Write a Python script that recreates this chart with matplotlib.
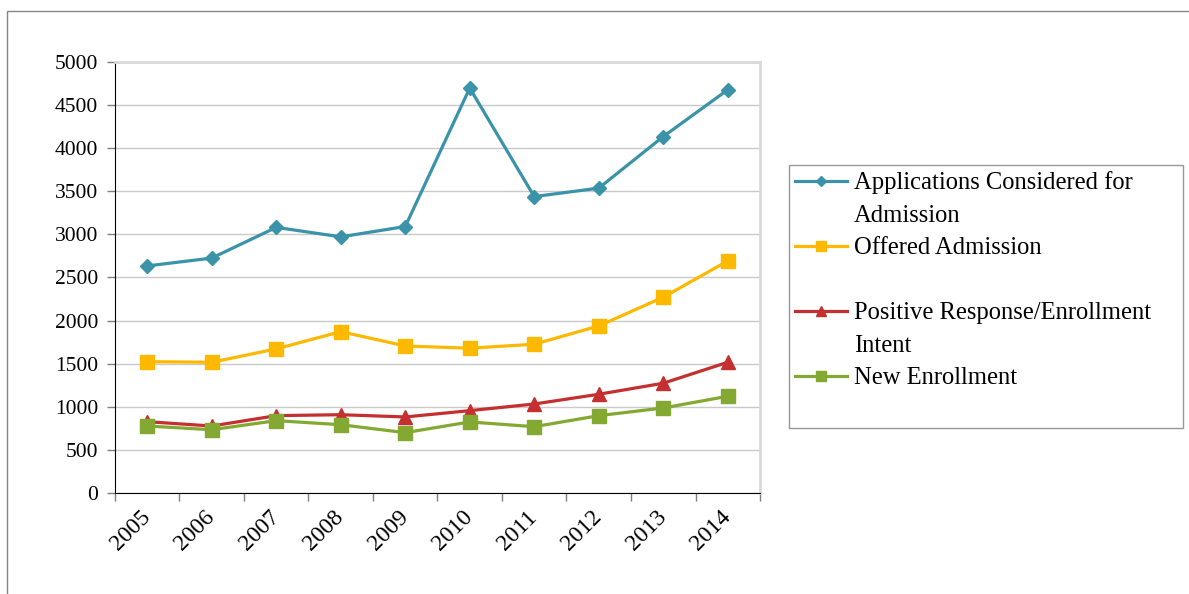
import numpy as np
import matplotlib.pyplot as plt
from matplotlib.lines import Line2D
from matplotlib.patches import Rectangle

plt.rcParams['font.family'] = ['Liberation Serif', 'DejaVu Serif']

years = ['2005', '2006', '2007', '2008', '2009', '2010', '2011', '2012', '2013', '2014']
applications = [2633, 2724, 3080, 2970, 3090, 4695, 3437, 3535, 4133, 4675]
offered = [1523, 1516, 1671, 1871, 1705, 1679, 1725, 1937, 2270, 2691]
positive = [827, 777, 897, 908, 882, 955, 1032, 1145, 1273, 1516]
enrolled = [777, 734, 839, 792, 700, 824, 769, 897, 986, 1122]

c_app = '#3A93A8'
c_off = '#FDB900'
c_pos = '#C4302F'
c_new = '#84A933'

fig = plt.figure(figsize=(11.89, 5.94), dpi=100)
ax = fig.add_axes([0.0967, 0.170, 0.5425, 0.726])

x = np.arange(len(years))
ax.plot(x, applications, color=c_app, lw=2.3, marker='D', ms=7.5, zorder=3)
ax.plot(x, offered, color=c_off, lw=2.3, marker='s', ms=9.5, zorder=3)
ax.plot(x, positive, color=c_pos, lw=2.3, marker='^', ms=10, zorder=3)
ax.plot(x, enrolled, color=c_new, lw=2.3, marker='s', ms=9.5, zorder=4)

ax.set_xlim(-0.5, len(years) - 0.5)
ax.set_ylim(0, 5000)
ax.set_yticks(np.arange(0, 5001, 500))
ax.set_xticks(x, years, rotation=45, ha='right', va='center', rotation_mode='anchor')
ax.set_xticks(np.arange(-0.5, len(years), 1), minor=True)
ax.tick_params(axis='x', which='major', length=0, pad=15, labelsize=17)
ax.tick_params(axis='x', which='minor', length=6, color='#7f7f7f', width=1)
ax.tick_params(axis='y', length=6, color='#7f7f7f', width=1, labelsize=15.5, pad=6)

ax.yaxis.grid(True, color='#c9c9c9', lw=1)
ax.set_axisbelow(True)
ax.spines['left'].set_color('black')
ax.spines['bottom'].set_color('black')
ax.spines['top'].set_color('#d9d9d9')
ax.spines['right'].set_color('#d9d9d9')
ax.spines['top'].set_linewidth(2)
ax.spines['right'].set_linewidth(2)

# legend rows mimic Excel's wrapped labels (handle on the first line)
blank = Line2D([], [], linestyle='none', marker='none')
handles = [
    Line2D([], [], color=c_app, lw=2.3, marker='D', ms=5),
    blank,
    Line2D([], [], color=c_off, lw=2.3, marker='s', ms=7),
    blank,
    Line2D([], [], color=c_pos, lw=2.3, marker='^', ms=7.5),
    blank,
    Line2D([], [], color=c_new, lw=2.3, marker='s', ms=7),
    blank,
]
labels = ['Applications Considered for', 'Admission', 'Offered Admission', ' ',
          'Positive Response/Enrollment', 'Intent', 'New Enrollment', ' ']
leg_top = 1 - 165 / 594
leg = fig.legend(handles, labels, loc='upper left',
                 bbox_to_anchor=(789 / 1189, leg_top - 0.1, (1183 - 789) / 1189, 0.1),
                 mode='expand', fontsize=17.7, frameon=True, fancybox=False,
                 handlelength=2.1, handletextpad=0.28, labelspacing=0.42,
                 borderpad=0.25, borderaxespad=0)
leg.get_frame().set_edgecolor('#7f7f7f')
leg.get_frame().set_linewidth(1)

# outer chart border
fig.patches.append(Rectangle((7 / 1189, -0.1), 1.2, 1.1 - 11 / 594, transform=fig.transFigure,
                             fill=False, edgecolor='#878787', lw=1))

fig.savefig('out.png', dpi=100)
